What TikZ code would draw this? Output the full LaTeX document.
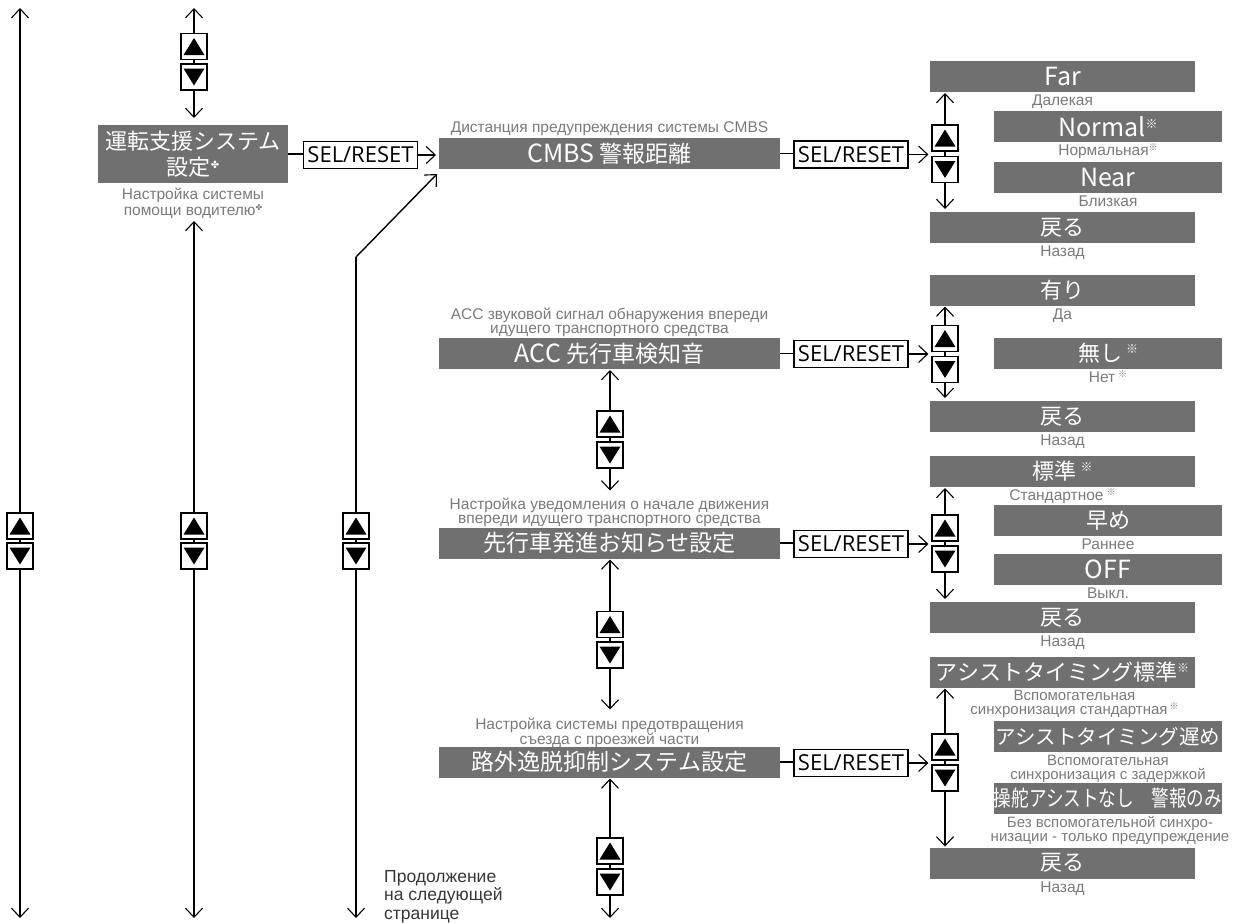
\documentclass[tikz,border=0pt]{standalone}
\usepackage{graphicx}
\usepackage{fontspec}
\setmainfont{Liberation Sans}
\newfontfamily\jp{Noto Sans CJK JP}
\newfontfamily\selfont{Open Sans}
\newfontfamily\dvs{DejaVu Sans}
\usetikzlibrary{arrows.meta}
\definecolor{boxgray}{RGB}{112,112,112}
\definecolor{subgray}{RGB}{122,122,122}
\definecolor{contgray}{RGB}{55,55,55}
\newcommand{\kmb}{\raisebox{8pt}[0pt][0pt]{\fontsize{12}{12}\selectfont\jp ※}}
\newcommand{\kms}{\raisebox{5pt}[0pt][0pt]{\fontsize{9}{9}\selectfont\jp ※}}
\newcommand{\flwb}{\raisebox{7pt}[0pt][0pt]{\fontsize{10}{10}\selectfont\dvs ✤}}
\newcommand{\flws}{\raisebox{5pt}[0pt][0pt]{\fontsize{8}{8}\selectfont\dvs ✤}}
\newcommand{\lat}[1]{{\fontsize{25}{26}\selectfont #1}}
\begin{document}
\begin{tikzpicture}[x=1pt,y=-1pt,
  >={Straight Barb[length=9pt,width=17pt,line width=1.1pt]},
  gbox/.style={fill=boxgray, text=white, inner sep=0pt, outer sep=0pt, align=center, font=\jp\fontsize{22}{26}\selectfont},
  lbox/.style={gbox, minimum width=265pt, minimum height=31pt},
  ibox/.style={gbox, minimum width=228pt, minimum height=31pt},
  mbox/.style={gbox, minimum width=341pt, minimum height=31pt, font=\jp\fontsize{23}{26}\selectfont},
  latin/.style={font=\jp\fontsize{25}{26}\selectfont},
  sub/.style={text=subgray, inner sep=0pt, outer sep=0pt, align=center, font=\fontsize{15.5}{14}\selectfont},
  rsub/.style={sub, anchor=north},
  selbox/.style={draw, line width=1.3pt, fill=white, minimum width=114pt, minimum height=27pt, inner sep=0pt, font=\selfont\fontsize{22}{24}\selectfont},
  btn/.style={draw, fill=white, line width=1.2pt, minimum size=26pt, inner sep=0pt},
  btnu/.style={btn, path picture={\fill[black] ([shift={(0,-8.5)}]path picture bounding box.center) -- ++(10.5,17) -- ++(-21,0) -- cycle;}},
  btnd/.style={btn, path picture={\fill[black] ([shift={(0,8.5)}]path picture bounding box.center) -- ++(10.5,-17) -- ++(-21,0) -- cycle;}},
  lline/.style={line width=2.4pt},
  cline/.style={line width=1.7pt},
  tline/.style={line width=1.4pt}
]
\useasboundingbox (0,0) rectangle (1236,922);

% ---------- left column lines ----------
\coordinate (L1t) at (20,8);
\coordinate (L1b) at (20,918);
\node[btnu] (L1u) at (20,526) {};
\node[btnd] (L1d) at (20,556) {};
\draw[lline,->] (L1u) -- (L1t);
\draw[lline] (L1u) -- (L1d);
\draw[lline,->] (L1d) -- (L1b);

% line 2 top
\coordinate (L2t) at (194,8);
\node[btnu] (L2u) at (194,46.5) {};
\node[btnd] (L2d) at (194,77) {};

% main entry box
\node[gbox, minimum width=190pt, minimum height=58pt] (B0) at (193,154) {運転支援システム\\設定\flwb};
\node[sub, anchor=north, font=\fontsize{15.5}{16}\selectfont] (S0) at (193,188) {Настройка системы\\помощи водителю\flws};

\draw[lline,->] (L2u) -- (L2t);
\draw[lline] (L2u) -- (L2d);
\draw[lline,->,shorten >=7pt] (L2d) -- (L2d |- B0.north);

% line 2 lower
\coordinate (L2m) at (194,221);
\coordinate (L2b) at (194,918);
\node[btnu] (L2u2) at (194,526) {};
\node[btnd] (L2d2) at (194,556) {};
\draw[lline,->] (L2u2) -- (L2m);
\draw[lline] (L2u2) -- (L2d2);
\draw[lline,->] (L2d2) -- (L2b);

% ---------- middle column ----------
\node[sub, anchor=north] (S1) at (609.5,122) {Дистанция предупреждения системы CMBS};
\node[mbox] (B1) at (609.5,153.5) {\lat{CMBS} 警報距離};
\node[sub, anchor=north] (S2) at (609.5,307.5) {ACC звуковой сигнал обнаружения впереди\\идущего транспортного средства};
\node[mbox] (B2) at (609.5,353.5) {\lat{ACC} 先行車検知音};
\node[sub, anchor=north] (S3) at (609.5,497.5) {Настройка уведомления о начале движения\\впереди идущего транспортного средства};
\node[mbox] (B3) at (609.5,543) {先行車発進お知らせ設定};
\node[sub, anchor=north] (S4) at (609.5,717.5) {Настройка системы предотвращения\\съезда с проезжей части};
\node[mbox] (B4) at (609.5,762) {路外逸脱抑制システム設定};

% line 3 (loop back to CMBS)
\coordinate (L3k) at (356,257);
\coordinate (L3b) at (356,918);
\node[btnu] (L3u) at (356,526) {};
\node[btnd] (L3d) at (356,556) {};
\draw[lline] (L3u) -- (L3k);
\draw[tline,->] (L3k) -- ([xshift=-2pt,yshift=-5pt]B1.south west);
\draw[lline] (L3u) -- (L3d);
\draw[lline,->] (L3d) -- (L3b);

% middle vertical navigation
\node[btnu] (M2u) at (610,424) {};
\node[btnd] (M2d) at (610,455) {};
\node[btnu] (M3u) at (610,624.5) {};
\node[btnd] (M3d) at (610,655) {};
\node[btnu] (M4u) at (610,851) {};
\node[btnd] (M4d) at (610,882) {};
\coordinate (M4b) at (610,918);
\draw[cline,->,shorten >=1pt] (M2u) -- (M2u |- B2.south);
\draw[cline] (M2u) -- (M2d);
\draw[cline,->,shorten >=7pt] (M2d) -- (M2d |- S3.north);
\draw[cline,->,shorten >=1pt] (M3u) -- (M3u |- B3.south);
\draw[cline] (M3u) -- (M3d);
\draw[cline,->,shorten >=8pt] (M3d) -- (M3d |- S4.north);
\draw[cline,->,shorten >=1pt] (M4u) -- (M4u |- B4.south);
\draw[cline] (M4u) -- (M4d);
\draw[cline,->] (M4d) -- (M4b);

\node[anchor=north west, text=contgray, align=left, inner sep=0pt, font=\fontsize{17.5}{18.5}\selectfont] (cont) at (384,870) {Продолжение\\на следующей\\странице};

% ---------- SEL/RESET boxes ----------
\node[selbox] (SEL0) at (360.5,155) {SEL/RESET};
\node[selbox] (SEL1) at (851,154.5) {SEL/RESET};
\node[selbox] (SEL2) at (851,354) {SEL/RESET};
\node[selbox] (SEL3) at (851,544) {SEL/RESET};
\node[selbox] (SEL4) at (851,763) {SEL/RESET};

% ---------- right column buttons ----------
\node[btnu] (R1u) at (945,138) {};
\node[btnd] (R1d) at (945,169.5) {};
\node[btnu] (R2u) at (945,338.5) {};
\node[btnd] (R2d) at (945,369.5) {};
\node[btnu] (R3u) at (945,528) {};
\node[btnd] (R3d) at (945,559) {};
\node[btnu] (R4u) at (945,747) {};
\node[btnd] (R4d) at (945,778) {};

% ---------- right column options ----------
% section 1
\node[lbox,latin] (F1) at (1062.5,76.5) {Far};
\node[rsub] (F1s) at ([yshift=-3pt]F1.south) {Далекая};
\node[ibox,latin] (N1) at (1108,126.5) {Normal\kmb};
\node[rsub] (N1s) at ([yshift=-3pt]N1.south) {Нормальная\kms};
\node[ibox,latin] (E1) at (1108,177.5) {Near};
\node[rsub] (E1s) at ([yshift=-3pt]E1.south) {Близкая};
\node[lbox] (K1) at (1062.5,227.5) {戻る};
\node[rsub] (K1s) at ([yshift=-3pt]K1.south) {Назад};
% section 2
\node[lbox] (Y2) at (1062.5,290) {有り};
\node[rsub] (Y2s) at ([yshift=-3pt]Y2.south) {Да};
\node[ibox] (N2) at (1108,353) {無し\hspace{4pt}\kmb};
\node[rsub] (N2s) at ([yshift=-3pt]N2.south) {Нет\hspace{3pt}\kms};
\node[lbox] (K2) at (1062.5,416.5) {戻る};
\node[rsub] (K2s) at ([yshift=-3pt]K2.south) {Назад};
% section 3
\node[lbox] (T3) at (1062.5,471.5) {標準\hspace{4pt}\kmb};
\node[rsub] (T3s) at ([yshift=-3pt]T3.south) {Стандартное\hspace{3pt}\kms};
\node[ibox] (H3) at (1108,520.5) {早め};
\node[rsub] (H3s) at ([yshift=-3pt]H3.south) {Раннее};
\node[ibox,latin] (O3) at (1108,569.5) {OFF};
\node[rsub] (O3s) at ([yshift=-3pt]O3.south) {Выкл.};
\node[lbox] (K3) at (1062.5,617.5) {戻る};
\node[rsub] (K3s) at ([yshift=-3pt]K3.south) {Назад};
% section 4
\node[lbox] (A4) at (1062.5,672) {アシストタイミング標準\kmb};
\node[rsub, font=\fontsize{15}{14}\selectfont] (A4s) at ([xshift=12pt,yshift=-3pt]A4.south) {Вспомогательная\\синхронизация стандартная\hspace{2pt}\kms};
\node[ibox, font=\jp\fontsize{20.5}{24}\selectfont] (D4) at (1108,736.5) {アシストタイミング遅め};
\node[rsub, font=\fontsize{15}{14}\selectfont] (D4s) at ([yshift=-3pt]D4.south) {Вспомогательная\\синхронизация с задержкой};
\node[ibox] (P4) at (1108,798) {\scalebox{0.8}[1]{操舵アシストなし　警報のみ}};
\node[rsub, font=\fontsize{15}{14}\selectfont] (P4s) at ([xshift=2pt,yshift=-3pt]P4.south) {Без вспомогательной синхро-\\низации - только предупреждение};
\node[lbox] (K4) at (1062.5,863) {戻る};
\node[rsub] (K4s) at ([yshift=-3pt]K4.south) {Назад};

% ---------- horizontal connectors ----------
\draw[cline] (B0.east) -- (B0.east -| SEL0.west);
\draw[cline,->,shorten >=3pt] (SEL0.east) -- (SEL0.east -| B1.west);
\draw[cline] (B1.east) -- (B1.east -| SEL1.west);
\draw[cline,->,shorten >=3pt] (SEL1.east) -- (SEL1.east -| R1u.west);
\draw[cline] (B2.east) -- (B2.east -| SEL2.west);
\draw[cline,->,shorten >=3pt] (SEL2.east) -- (SEL2.east -| R2u.west);
\draw[cline] (B3.east) -- (B3.east -| SEL3.west);
\draw[cline,->,shorten >=3pt] (SEL3.east) -- (SEL3.east -| R3u.west);
\draw[cline] (B4.east) -- (B4.east -| SEL4.west);
\draw[cline,->,shorten >=3pt] (SEL4.east) -- (SEL4.east -| R4u.west);

% ---------- right vertical connectors ----------
\draw[tline,->,shorten >=1pt] (R1u) -- (R1u |- F1.south);
\draw[tline] (R1u) -- (R1d);
\draw[tline,->,shorten >=3pt] (R1d) -- (R1d |- K1.north);
\draw[tline,->,shorten >=1pt] (R2u) -- (R2u |- Y2.south);
\draw[tline] (R2u) -- (R2d);
\draw[tline,->,shorten >=3pt] (R2d) -- (R2d |- K2.north);
\draw[tline,->,shorten >=1pt] (R3u) -- (R3u |- T3.south);
\draw[tline] (R3u) -- (R3d);
\draw[tline,->,shorten >=3pt] (R3d) -- (R3d |- K3.north);
\draw[tline,->,shorten >=1pt] (R4u) -- (R4u |- A4.south);
\draw[tline] (R4u) -- (R4d);
\draw[tline,->,shorten >=1pt] (R4d) -- (R4d |- K4.north);
\end{tikzpicture}
\end{document}
